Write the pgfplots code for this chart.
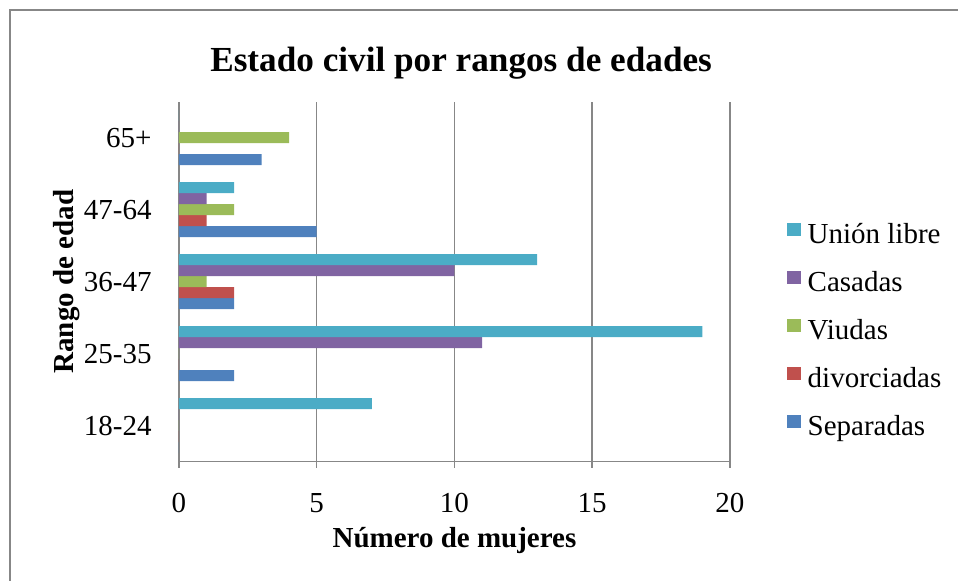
\documentclass[border=0pt]{standalone}
\usepackage{pgfplots}
\pgfplotsset{compat=1.18}
\usepackage{fontspec}
\setmainfont{Liberation Serif}

\definecolor{cSep}{HTML}{4F81BD}
\definecolor{cDiv}{HTML}{C0504D}
\definecolor{cViu}{HTML}{9BBB59}
\definecolor{cCas}{HTML}{8064A2}
\definecolor{cUni}{HTML}{4BACC6}
\definecolor{axgray}{HTML}{878787}

\begin{document}
\begin{tikzpicture}
\useasboundingbox (-89.5pt,-59.65pt) rectangle (389.5pt,230.85pt);
\draw[axgray, line width=1pt] (-84.25pt,-59.65pt) -- (-84.25pt,225.6pt) -- (389.5pt,225.6pt);
\begin{axis}[
    scale only axis,
    width=275.5pt, height=180pt,
    xbar=0pt, bar width=5.5pt,
    xmin=0, xmax=20,
    ymin=-0.5, ymax=4.5,
    xtick={0,5,10,15,20},
    ytick={0,1,2,3,4},
    yticklabels={18-24,25-35,36-47,47-64,65+},
    axis x line*=bottom, axis y line*=left,
    axis line style={axgray, line width=0.75pt},
    xmajorgrids, major grid style={axgray, line width=0.75pt},
    x tick style={axgray, line width=0.75pt}, major tick length=3pt,
    xtick pos=bottom, tick align=outside,
    y tick style={draw=none},
    /pgf/number format/assume math mode=true,
    tick label style={font=\fontsize{14.5}{16}\selectfont, text=black},
    xticklabel style={anchor=base, yshift=-22.2pt},
    yticklabel style={anchor=east, inner sep=0pt, xshift=-10.5pt},
    every axis title/.style={at={(axis description cs:0.512,1)}, anchor=base, yshift=15.1pt,
        font=\fontsize{17.6}{20}\selectfont\bfseries},
    title={Estado civil por rangos de edades},
    every axis x label/.style={at={(axis description cs:0.5,0)}, anchor=base, yshift=-43pt,
        font=\fontsize{14.5}{16}\selectfont\bfseries},
    xlabel={Número de mujeres},
    every axis y label/.style={at={(axis description cs:-0.1906,0.5)}, rotate=90, anchor=base,
        font=\fontsize{14.5}{16}\selectfont\bfseries},
    ylabel={Rango de edad},
    reverse legend,
    legend cell align=left,
    legend image code/.code={\fill[#1] (0pt,0.3pt) rectangle (6.8pt,6.8pt);},
    legend style={draw=none, fill=none, at={(axis description cs:1.092,0.36)}, anchor=west,
        font=\fontsize{14.5}{16}\selectfont, row sep=10.75pt,
        nodes={inner sep=0pt, text height=10pt, text depth=3pt},
        /tikz/every odd column/.append style={column sep=3.5pt}},
]
\addplot[fill=cSep, draw=none] coordinates {(0,0) (2,1) (2,2) (5,3) (3,4)};
\addplot[fill=cDiv, draw=none] coordinates {(0,0) (0,1) (2,2) (1,3) (0,4)};
\addplot[fill=cViu, draw=none] coordinates {(0,0) (0,1) (1,2) (2,3) (4,4)};
\addplot[fill=cCas, draw=none] coordinates {(0,0) (11,1) (10,2) (1,3) (0,4)};
\addplot[fill=cUni, draw=none] coordinates {(7,0) (19,1) (13,2) (2,3) (0,4)};
\legend{Separadas,divorciadas,Viudas,Casadas,Unión libre}
\end{axis}
\end{tikzpicture}
\end{document}
